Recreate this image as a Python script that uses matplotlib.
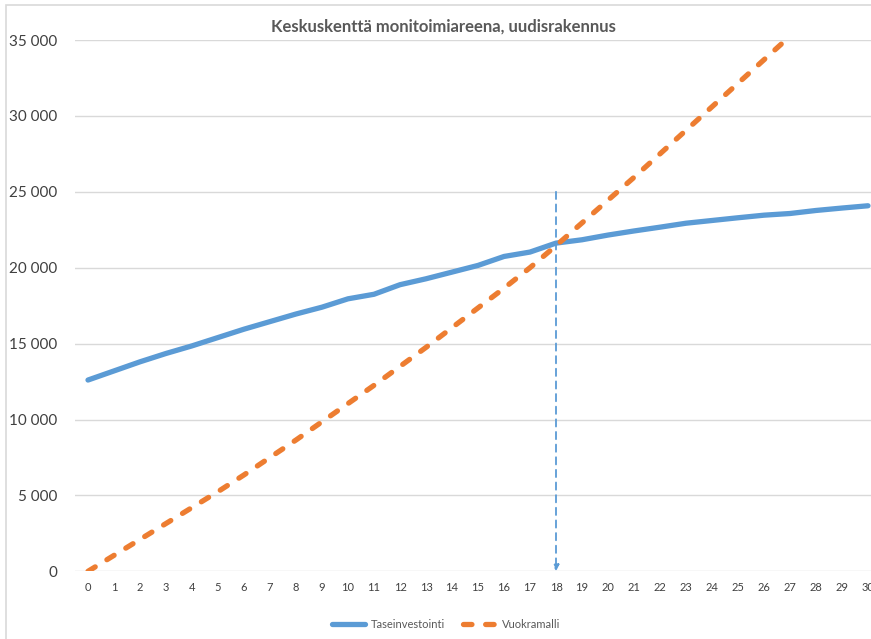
import matplotlib
matplotlib.use("Agg")
import matplotlib.pyplot as plt
from matplotlib.ticker import FuncFormatter, MultipleLocator
from matplotlib.lines import Line2D
from matplotlib.patches import Rectangle

plt.rcParams['font.family'] = ['Lato', 'DejaVu Sans']

years = list(range(31))
taseinvestointi = [12600, 13200, 13800, 14350, 14850, 15400, 15950, 16450, 16950, 17400,
                   17950, 18250, 18880, 19270, 19710, 20150, 20740, 21030, 21620, 21840,
                   22150, 22420, 22670, 22930, 23110, 23290, 23460, 23570, 23770, 23930,
                   24080]
vuokramalli = [0, 1050, 2100, 3150, 4200, 5250, 6350, 7500, 8650, 9850,
               11050, 12250, 13500, 14750, 16050, 17350, 18650, 20000, 21450, 22950,
               24450, 25950, 27500, 29050, 30600, 32150, 33700, 35250, 36800, 38350,
               39900]
crossover_year = 18
crossover_top = 25000

title = "Keskuskenttä monitoimiareena, uudisrakennus"
blue = '#5B9BD5'
orange = '#ED7D31'
grey_text = '#595959'
grid_col = '#D9D9D9'

W, H = 871, 639
fig = plt.figure(figsize=(W / 100, H / 100), dpi=100)

# outer chart frame (only top/left visible in the crop)
fig.patches.append(Rectangle((6 / W, -0.1), 1.2, (H - 5) / H + 0.1, transform=fig.transFigure,
                             fill=False, edgecolor=grid_col, linewidth=1.2))

ax = fig.add_axes([75 / W, 1 - 571.3 / H, 806 / W, (571.3 - 40) / H])

ax.plot(years, taseinvestointi, color=blue, linewidth=3.8, solid_capstyle='round',
        solid_joinstyle='round', label='Taseinvestointi', zorder=3)
ax.plot(years, vuokramalli, color=orange, linewidth=3.8, dashes=(1.6, 2.6),
        dash_capstyle='round', label='Vuokramalli', zorder=3)

ax.annotate('', xy=(crossover_year, 0), xytext=(crossover_year, crossover_top),
            arrowprops=dict(arrowstyle='-|>', color=blue, linestyle=(0, (4, 3)),
                            linewidth=1.3, mutation_scale=9, shrinkA=0, shrinkB=0),
            zorder=2)

ax.set_xlim(-0.5, 30.5)
ax.set_ylim(0, 35000)
ax.yaxis.set_major_locator(MultipleLocator(5000))
ax.set_xticks(years)
ax.yaxis.set_major_formatter(FuncFormatter(lambda v, p: f"{int(v):,}".replace(",", " ")))
ax.grid(axis='y', color=grid_col, linewidth=1)
ax.set_axisbelow(True)
for s in ax.spines.values():
    s.set_visible(False)
ax.tick_params(axis='y', length=0, pad=13, labelsize=11, labelcolor='#404040')
ax.tick_params(axis='x', length=0, pad=8, labelsize=8, labelcolor='#404040')

fig.text(443 / W, 1 - 27 / H, title, ha='center', va='center', fontsize=12,
         fontweight='bold', color=grey_text)

handles = [Line2D([], [], color=blue, linewidth=3.8, solid_capstyle='round'),
           Line2D([], [], color=orange, linewidth=3.8, dashes=(1.6, 2.6), dash_capstyle='round')]
fig.legend(handles, ['Taseinvestointi', 'Vuokramalli'], loc='center',
           bbox_to_anchor=(446 / W, 1 - 624 / H), ncol=2, frameon=False, fontsize=8,
           labelcolor=grey_text, handlelength=3.0, columnspacing=1.6, handletextpad=0.5)

fig.savefig('out.png', dpi=100)
